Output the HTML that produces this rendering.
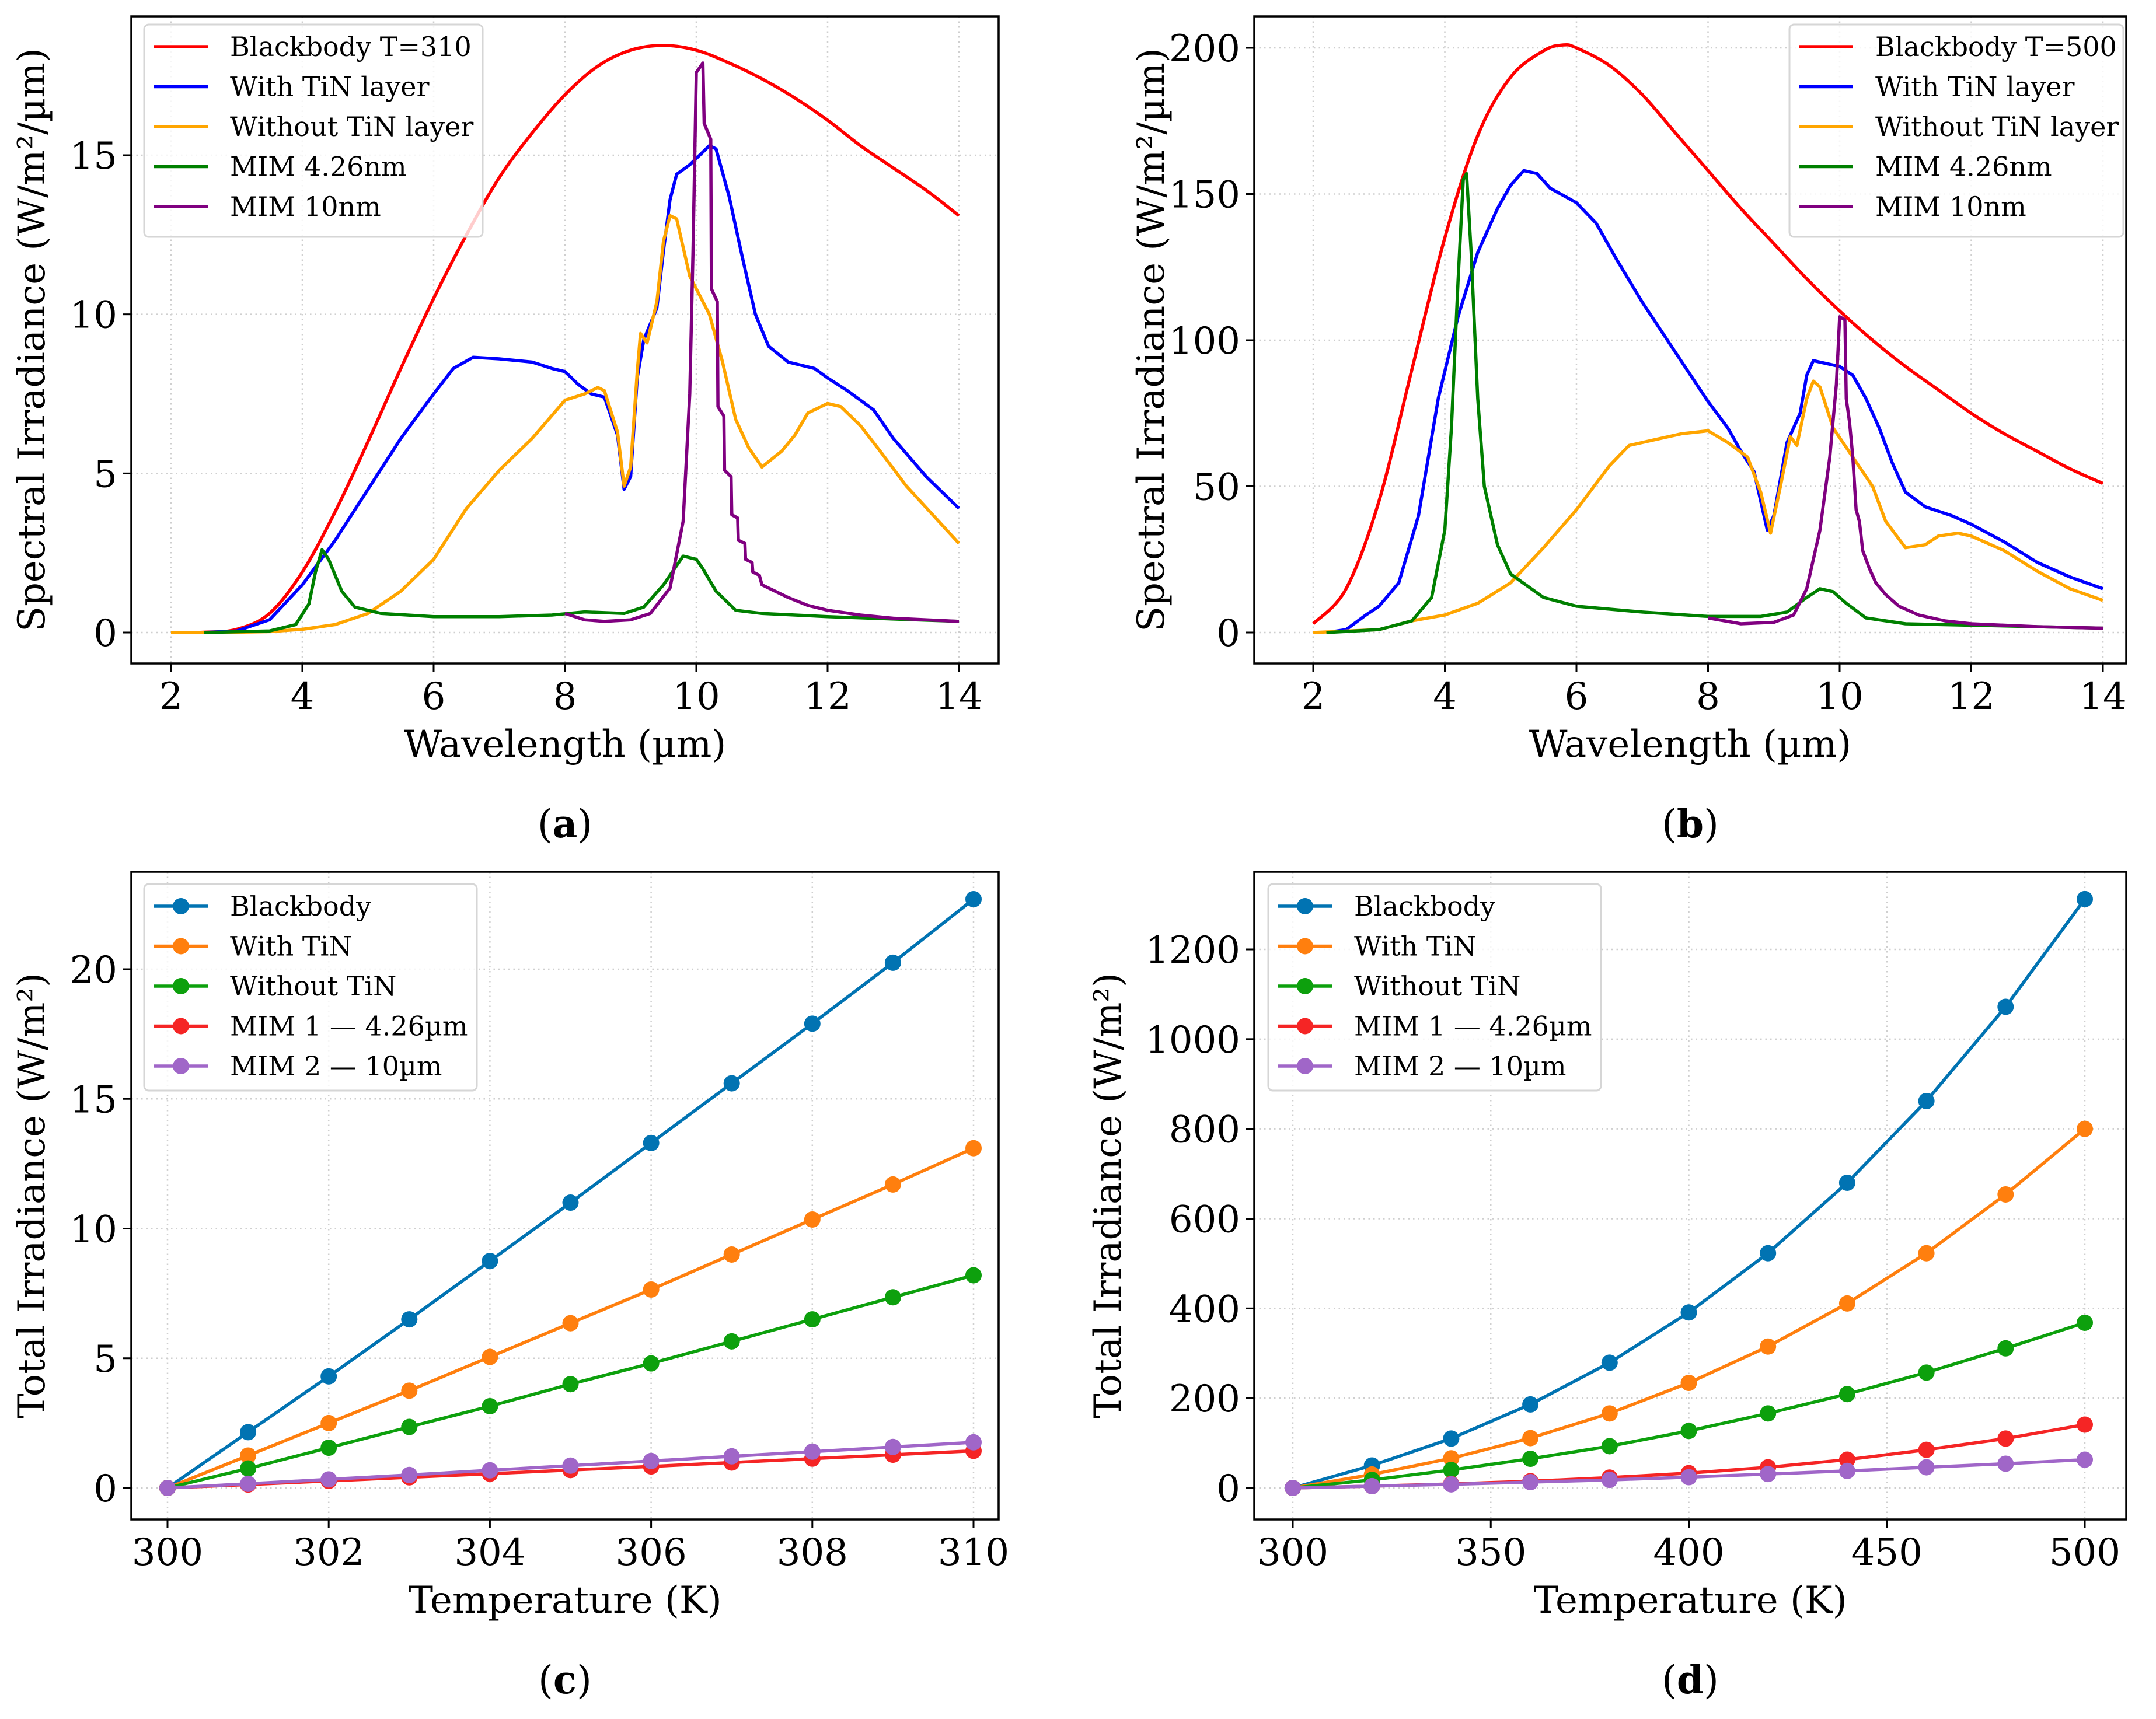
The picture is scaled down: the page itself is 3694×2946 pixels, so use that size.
<!DOCTYPE html>
<html><head><meta charset="utf-8">
<style>
html,body{margin:0;padding:0;background:#fff;}
svg{display:block;font-family:"DejaVu Serif","Liberation Serif",serif;}
</style></head>
<body>
<svg id="fig" width="3694" height="2946" viewBox="0 0 3694 2946" xmlns="http://www.w3.org/2000/svg"></svg>
<script>
// ---------- Panel (a) data: T=310 spectral irradiance ----------
const aBbX=[2,2.5,3,3.5,4,4.5,5,5.5,6,6.5,7,7.5,8,8.5,9,9.5,10,10.5,11,11.5,12,12.5,13,13.5,14];
const aBbY=[0,0.01,0.1,0.6,1.9,3.8,6.0,8.3,10.5,12.5,14.3,15.7,16.9,17.8,18.3,18.45,18.3,17.9,17.4,16.8,16.1,15.3,14.6,13.9,13.1];
const aTinX=[2.5,3,3.5,4,4.5,5,5.5,6,6.3,6.6,7,7.5,7.8,8,8.2,8.4,8.6,8.8,8.9,9.0,9.1,9.2,9.4,9.5,9.6,9.7,9.9,10.1,10.2,10.3,10.5,10.7,10.9,11.1,11.4,11.8,12,12.3,12.7,13,13.5,14];
const aTinY=[0,0.05,0.4,1.5,2.9,4.5,6.1,7.5,8.3,8.65,8.6,8.5,8.3,8.2,7.8,7.5,7.4,6.2,4.5,4.9,8.0,9.2,10.2,12.0,13.6,14.4,14.7,15.1,15.3,15.2,13.7,11.8,10.0,9.0,8.5,8.3,8.0,7.6,7.0,6.1,4.9,3.9];
const aNoX=[2,3,3.5,4,4.5,5,5.5,6,6.5,7,7.5,8,8.3,8.5,8.6,8.8,8.9,9.0,9.1,9.15,9.25,9.4,9.5,9.6,9.7,9.9,10.2,10.4,10.6,10.8,11,11.3,11.5,11.7,12,12.2,12.5,12.8,13.2,13.6,14];
const aNoY=[0,0.01,0.03,0.1,0.25,0.6,1.3,2.3,3.9,5.1,6.1,7.3,7.5,7.7,7.6,6.3,4.6,5.2,8.2,9.4,9.1,10.4,12.3,13.1,13.0,11.2,10.0,8.5,6.7,5.8,5.2,5.7,6.2,6.9,7.2,7.1,6.5,5.7,4.6,3.7,2.8];
const aM1X=[2.5,3.5,3.9,4.1,4.2,4.3,4.4,4.6,4.8,5.2,6,7,7.8,8.3,8.9,9.2,9.5,9.8,10,10.1,10.3,10.6,11,12,14];
const aM1Y=[0,0.05,0.25,0.9,1.9,2.6,2.3,1.3,0.8,0.6,0.5,0.5,0.55,0.65,0.6,0.8,1.5,2.4,2.3,2.0,1.3,0.7,0.6,0.5,0.35];
const aM2X=[8,8.3,8.6,9,9.3,9.6,9.8,9.9,9.95,10.0,10.1,10.12,10.22,10.23,10.32,10.33,10.42,10.43,10.53,10.54,10.63,10.64,10.74,10.75,10.85,10.86,10.96,11,11.2,11.4,11.7,12,12.5,13,14];
const aM2Y=[0.6,0.4,0.35,0.4,0.6,1.4,3.5,7.5,12,17.6,17.9,16.0,15.5,10.8,10.4,7.1,6.8,5.1,4.9,3.7,3.6,2.9,2.8,2.3,2.2,1.9,1.8,1.5,1.3,1.1,0.85,0.7,0.55,0.45,0.35];
const aTicksX=[2,4,6,8,10,12,14];
const aTicksY=[0,5,10,15];
const aLabels=["Blackbody T=310","With TiN layer","Without TiN layer","MIM 4.26nm","MIM 10nm"];

// ---------- Panel (b) data: T=500 ----------
const bBbX=[2,2.5,3,3.5,4,4.5,5,5.5,5.8,6,6.5,7,7.5,8,8.5,9,9.5,10,10.5,11,11.5,12,12.5,13,13.5,14];
const bBbY=[3,15,45,90,135,170,190,199,201,200,194,184,171,158,145,133,121,110,100,91,83,75,68,62,56,51];
const bTinX=[2.2,2.5,2.8,3,3.3,3.6,3.9,4.2,4.5,4.8,5,5.2,5.4,5.6,6,6.3,6.6,7,7.5,8,8.3,8.5,8.7,8.9,9.0,9.2,9.4,9.5,9.6,9.8,10,10.2,10.4,10.6,10.8,11,11.3,11.7,12,12.5,13,13.5,14];
const bTinY=[0,1,6,9,17,40,80,108,130,145,153,158,157,152,147,140,128,113,96,79,70,62,55,35,40,65,75,88,93,92,91,88,80,70,58,48,43,40,37,31,24,19,15];
const bNoX=[2,3,3.5,4,4.5,5,5.5,6,6.5,6.8,7.2,7.6,8,8.3,8.6,8.8,8.95,9.1,9.25,9.35,9.5,9.6,9.7,9.9,10.2,10.5,10.7,11,11.3,11.5,11.8,12,12.5,13,13.5,14];
const bNoY=[0,1,4,6,10,17,29,42,57,64,66,68,69,65,60,48,34,50,67,64,80,86,84,70,60,50,38,29,30,33,34,33,28,21,15,11];
const bM1X=[2.2,3,3.5,3.8,4,4.1,4.2,4.28,4.33,4.4,4.5,4.6,4.8,5,5.5,6,7,8,8.8,9.2,9.5,9.7,9.9,10.1,10.4,11,12,14];
const bM1Y=[0,1,4,12,35,70,120,155,157,130,80,50,30,20,12,9,7,5.5,5.5,7,12,15,14,10,5,3,2.5,1.5];
const bM2X=[8,8.5,9,9.3,9.5,9.7,9.85,9.95,10.0,10.08,10.1,10.15,10.2,10.25,10.3,10.35,10.45,10.55,10.7,10.9,11.2,11.6,12,13,14];
const bM2Y=[5,3,3.5,6,15,35,60,85,108,107,80,72,60,42,38,28,22,17,13,9,6,4,3,2,1.5];
const bTicksX=[2,4,6,8,10,12,14];
const bTicksY=[0,50,100,150,200];
const bLabels=["Blackbody T=500","With TiN layer","Without TiN layer","MIM 4.26nm","MIM 10nm"];

// ---------- Panel (c) data ----------
const cTemps=[300,301,302,303,304,305,306,307,308,309,310];
const cBb=[0,2.15,4.3,6.5,8.75,11.0,13.3,15.6,17.9,20.25,22.7];
const cTin=[0,1.25,2.5,3.75,5.05,6.35,7.65,9.0,10.35,11.7,13.1];
const cNo=[0,0.75,1.55,2.35,3.15,4.0,4.8,5.65,6.5,7.35,8.2];
const cM1=[0,0.13,0.27,0.41,0.55,0.69,0.83,0.98,1.13,1.28,1.43];
const cM2=[0,0.16,0.33,0.5,0.68,0.86,1.04,1.22,1.4,1.58,1.76];
const cTicksX=[300,302,304,306,308,310];
const cTicksY=[0,5,10,15,20];

// ---------- Panel (d) data ----------
const dTemps=[300,320,340,360,380,400,420,440,460,480,500];
const dBb=[0,50,110,186,279,391,523,680,862,1072,1312];
const dTin=[0,30,66,111,166,234,315,411,523,654,800];
const dNo=[0,18,40,65,93,127,166,209,257,311,368];
const dM1=[0,4,9,15,23,33,46,63,85,110,141];
const dM2=[0,4,8,13,18,24,31,38,46,54,63];
const dTicksX=[300,350,400,450,500];
const dTicksY=[0,200,400,600,800,1000,1200];
const cdLabels=["Blackbody","With TiN","Without TiN","MIM 1 \u2014 4.26\u00b5m","MIM 2 \u2014 10\u00b5m"];

const NS="http://www.w3.org/2000/svg";
const svg=document.getElementById('fig');
function el(tag,attrs,parent,text){const e=document.createElementNS(NS,tag);for(const k in attrs)e.setAttribute(k,attrs[k]);if(text!==undefined)e.textContent=text;(parent||svg).appendChild(e);return e;}

function smoothPath(p){
  let d='M'+p[0][0].toFixed(1)+','+p[0][1].toFixed(1);
  for(let i=0;i<p.length-1;i++){
    const p0=p[i-1]||p[i],p1=p[i],p2=p[i+1],p3=p[i+2]||p2;
    const c1=[p1[0]+(p2[0]-p0[0])/6,p1[1]+(p2[1]-p0[1])/6];
    const c2=[p2[0]-(p3[0]-p1[0])/6,p2[1]-(p3[1]-p1[1])/6];
    d+=' C'+c1[0].toFixed(1)+','+c1[1].toFixed(1)+' '+c2[0].toFixed(1)+','+c2[1].toFixed(1)+' '+p2[0].toFixed(1)+','+p2[1].toFixed(1);
  }
  return d;
}

function panel(cfg){
  const g=el('g',{});
  
  
  const L=cfg.box[0],T=cfg.box[1],R=cfg.box[2],B=cfg.box[3];
  const sx=v=>cfg.px0+(v-cfg.x0)*(cfg.px1-cfg.px0)/(cfg.x1-cfg.x0);
  const sy=v=>cfg.py0+(v-cfg.y0)*(cfg.py1-cfg.py0)/(cfg.y1-cfg.y0);
  const grid=el('g',{},g);
  
  
  cfg.ticksX.forEach(t=>{el('line',{x1:sx(t),x2:sx(t),y1:T,y2:B,stroke:'#cfcfcf','stroke-width':2.5,'stroke-dasharray':'2.5 6'},grid);});
  cfg.ticksY.forEach(t=>{el('line',{x1:L,x2:R,y1:sy(t),y2:sy(t),stroke:'#cfcfcf','stroke-width':2.5,'stroke-dasharray':'2.5 6'},grid);});
  cfg.series.forEach((s,i)=>{
    const pts=s.x.map((x,j)=>[sx(x),sy(s.y[j])]);
    let pl;
    if(s.smooth){pl=el('path',{d:smoothPath(pts),fill:'none',stroke:s.color,'stroke-width':5.5,'stroke-linejoin':'round'},g);}
    else{pl=el('polyline',{points:pts.map(p=>p[0].toFixed(1)+','+p[1].toFixed(1)).join(' '),fill:'none',stroke:s.color,'stroke-width':5.5,'stroke-linejoin':'round'},g);}
    
    
    if(s.marker){s.x.forEach((x,j)=>{const c=el('circle',{cx:sx(x),cy:sy(s.y[j]),r:14,fill:s.color},g);
      
      });}
  });
  const fr=el('rect',{x:L,y:T,width:R-L,height:B-T,fill:'none',stroke:'#000','stroke-width':3.5},g);
  
  
  cfg.ticksX.forEach(t=>{
    el('line',{x1:sx(t),x2:sx(t),y1:B,y2:B+14,stroke:'#000','stroke-width':3},g);
    const tx=el('text',{x:sx(t),y:B+78,'font-size':64,'text-anchor':'middle'},g,String(t));
    
    
  });
  cfg.ticksY.forEach(t=>{
    el('line',{x1:L-14,x2:L,y1:sy(t),y2:sy(t),stroke:'#000','stroke-width':3},g);
    const ty=el('text',{x:L-24,y:sy(t)+23,'font-size':64,'text-anchor':'end'},g,String(t));
    
    
  });
  const xl=el('text',{x:(L+R)/2,y:B+160,'font-size':64,'text-anchor':'middle'},g,cfg.xlabel);
  
  
  const yc=(T+B)/2;
  const yl=el('text',{x:0,y:0,'font-size':64,'text-anchor':'middle',transform:`translate(${cfg.ylx},${yc}) rotate(-90)`},g,cfg.ylabel);
  
  
  const pt=el('text',{x:(L+R)/2,y:B+298,'font-size':66,'text-anchor':'middle'},g);
  
  
  el('tspan',{},pt,'(');el('tspan',{'font-weight':'bold'},pt,cfg.tag);el('tspan',{},pt,')');
  const lg=el('g',{},g);
  
  
  const lx=cfg.leg[0],ly=cfg.leg[1];
  el('rect',{x:lx,y:ly,width:cfg.leg[2],height:cfg.leg[3],rx:8,fill:'#fff','fill-opacity':0.8,stroke:'#d6d6d6','stroke-width':3},lg);
  cfg.series.forEach((s,i)=>{
    const yy=ly+38+i*68.5;
    const e=el('g',{},lg);
    
    
    el('line',{x1:lx+17,x2:lx+109,y1:yy,y2:yy,stroke:s.color,'stroke-width':5.5},e);
    if(s.marker)el('circle',{cx:lx+63,cy:yy,r:14,fill:s.color},e);
    el('text',{x:lx+147,y:yy+16,'font-size':46},e,cfg.labels[i]);
  });
}

panel({name:'panel-a-spectral-310K',tag:'a',box:[225,28,1711,1137],x0:2,x1:14,px0:293,px1:1643,y0:0,y1:15,py0:1084,py1:266,
  ticksX:aTicksX,ticksY:aTicksY,xlabel:'Wavelength (\u00b5m)',ylabel:'Spectral Irradiance (W/m\u00b2/\u00b5m)',ylx:76,
  leg:[247,42,580,364],labels:aLabels,
  series:[{key:'blackbody',x:aBbX,y:aBbY,color:'#ff0000',smooth:1},{key:'with-tin',x:aTinX,y:aTinY,color:'#0000ff'},
  {key:'without-tin',x:aNoX,y:aNoY,color:'#ffa500'},{key:'mim-4-26',x:aM1X,y:aM1Y,color:'#008000'},{key:'mim-10',x:aM2X,y:aM2Y,color:'#800080'}]});

panel({name:'panel-b-spectral-500K',tag:'b',box:[2149,28,3643,1137],x0:2,x1:14,px0:2250,px1:3603,y0:0,y1:200,py0:1084,py1:82,
  ticksX:bTicksX,ticksY:bTicksY,xlabel:'Wavelength (\u00b5m)',ylabel:'Spectral Irradiance (W/m\u00b2/\u00b5m)',ylx:1994,
  leg:[3066,42,572,364],labels:bLabels,
  series:[{key:'blackbody',x:bBbX,y:bBbY,color:'#ff0000',smooth:1},{key:'with-tin',x:bTinX,y:bTinY,color:'#0000ff'},
  {key:'without-tin',x:bNoX,y:bNoY,color:'#ffa500'},{key:'mim-4-26',x:bM1X,y:bM1Y,color:'#008000'},{key:'mim-10',x:bM2X,y:bM2Y,color:'#800080'}]});

panel({name:'panel-c-total-300-310K',tag:'c',box:[225,1494,1711,2604],x0:300,x1:310,px0:287,px1:1668,y0:0,y1:20,py0:2550,py1:1661,
  ticksX:cTicksX,ticksY:cTicksY,xlabel:'Temperature (K)',ylabel:'Total Irradiance (W/m\u00b2)',ylx:76,
  leg:[247,1515,570,354],labels:cdLabels,
  series:[{key:'blackbody',x:cTemps,y:cBb,color:'#0173b2',marker:1},{key:'with-tin',x:cTemps,y:cTin,color:'#ff7f0e',marker:1},
  {key:'without-tin',x:cTemps,y:cNo,color:'#0da00d',marker:1},{key:'mim1',x:cTemps,y:cM1,color:'#f52525',marker:1},{key:'mim2',x:cTemps,y:cM2,color:'#a066c8',marker:1}]});

panel({name:'panel-d-total-300-500K',tag:'d',box:[2149,1494,3643,2604],x0:300,x1:500,px0:2215,px1:3572,y0:0,y1:1200,py0:2550,py1:1627,
  ticksX:dTicksX,ticksY:dTicksY,xlabel:'Temperature (K)',ylabel:'Total Irradiance (W/m\u00b2)',ylx:1920,
  leg:[2173,1515,570,354],labels:cdLabels,
  series:[{key:'blackbody',x:dTemps,y:dBb,color:'#0173b2',marker:1},{key:'with-tin',x:dTemps,y:dTin,color:'#ff7f0e',marker:1},
  {key:'without-tin',x:dTemps,y:dNo,color:'#0da00d',marker:1},{key:'mim1',x:dTemps,y:dM1,color:'#f52525',marker:1},{key:'mim2',x:dTemps,y:dM2,color:'#a066c8',marker:1}]});
</script>
</body></html>
